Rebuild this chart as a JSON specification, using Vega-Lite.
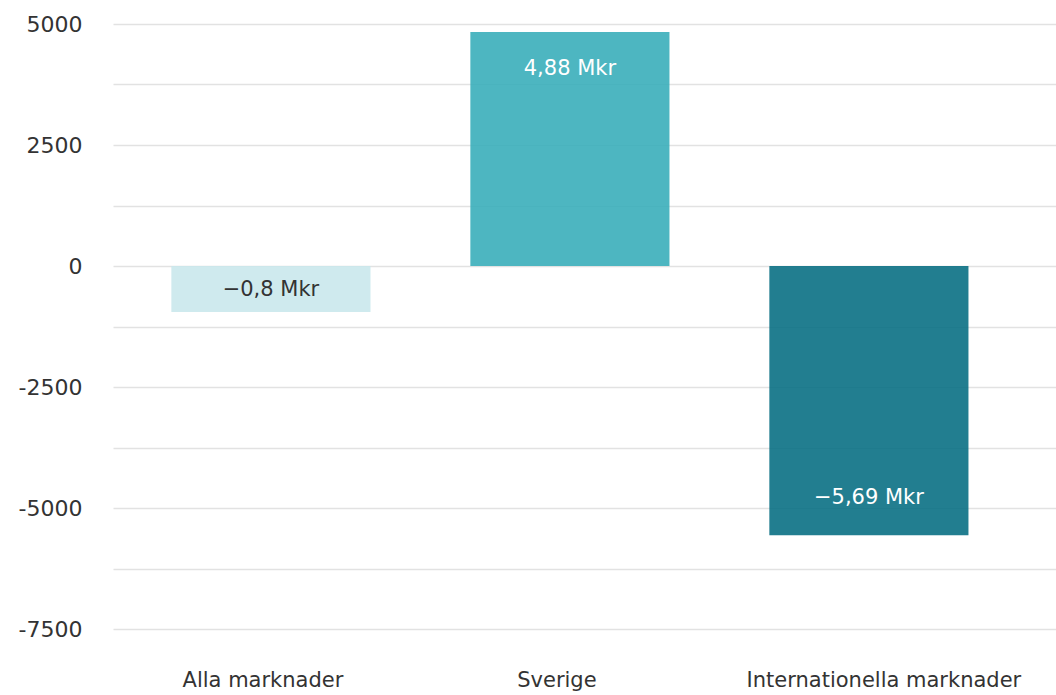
{
  "$schema": "https://vega.github.io/schema/vega-lite/v6.json",
  "width": 943,
  "height": 605,
  "autosize": "none",
  "padding": {"left": 113, "top": 24, "right": 0, "bottom": 66},
  "background": "white",
  "config": {
    "view": {"stroke": null},
    "font": "DejaVu Sans",
    "axis": {"labelFont": "DejaVu Sans", "labelColor": "#333333", "labelFontSize": 21, "labelFontWeight": "normal", "labelLimit": 0}
  },
  "data": {
    "values": [
      {"marknad": "Alla marknader", "varde": -951, "etikett": "−0,8 Mkr"},
      {"marknad": "Sverige", "varde": 4834, "etikett": "4,88 Mkr"},
      {"marknad": "Internationella marknader", "varde": -5565, "etikett": "−5,69 Mkr"}
    ]
  },
  "encoding": {
    "x": {
      "field": "marknad",
      "type": "nominal",
      "sort": null,
      "scale": {"paddingInner": 0.334, "paddingOuter": 0.244, "align": 0.4},
      "axis": {
        "title": null,
        "labelAngle": 0,
        "domain": false,
        "ticks": false,
        "labelPadding": 40,
        "grid": false,
        "labelOffset": {
          "condition": [
            {"test": "datum.value === 'Alla marknader'", "value": -8},
            {"test": "datum.value === 'Sverige'", "value": -13}
          ],
          "value": 15
        }
      }
    },
    "y": {
      "field": "varde",
      "type": "quantitative",
      "scale": {"domain": [-7500, 5000], "nice": false, "zero": true},
      "axis": {
        "title": null,
        "domain": false,
        "ticks": false,
        "values": [-7500, -6250, -5000, -3750, -2500, -1250, 0, 1250, 2500, 3750, 5000],
        "labelExpr": "datum.value % 2500 === 0 ? '' + datum.value : ''",
        "labelPadding": 31,
        "labelFontSize": 22,
        "gridColor": "#e2e2e2",
        "gridWidth": 1.5
      }
    }
  },
  "layer": [
    {
      "mark": {"type": "bar", "opacity": 0.9},
      "encoding": {
        "color": {
          "field": "marknad",
          "type": "nominal",
          "sort": null,
          "scale": {"domain": ["Alla marknader", "Sverige", "Internationella marknader"], "range": ["#CAE8EC", "#3AAEBA", "#0A7084"]},
          "legend": null
        }
      }
    },
    {
      "transform": [{"filter": "datum.marknad === 'Alla marknader'"}],
      "mark": {"type": "text", "dy": -22, "baseline": "middle", "fontSize": 21, "color": "#333333"},
      "encoding": {"text": {"field": "etikett"}}
    },
    {
      "transform": [{"filter": "datum.marknad === 'Sverige'"}],
      "mark": {"type": "text", "dy": 37, "baseline": "middle", "fontSize": 21, "color": "white"},
      "encoding": {"text": {"field": "etikett"}}
    },
    {
      "transform": [{"filter": "datum.marknad === 'Internationella marknader'"}],
      "mark": {"type": "text", "dy": -37, "baseline": "middle", "fontSize": 21, "color": "white"},
      "encoding": {"text": {"field": "etikett"}}
    }
  ]
}
